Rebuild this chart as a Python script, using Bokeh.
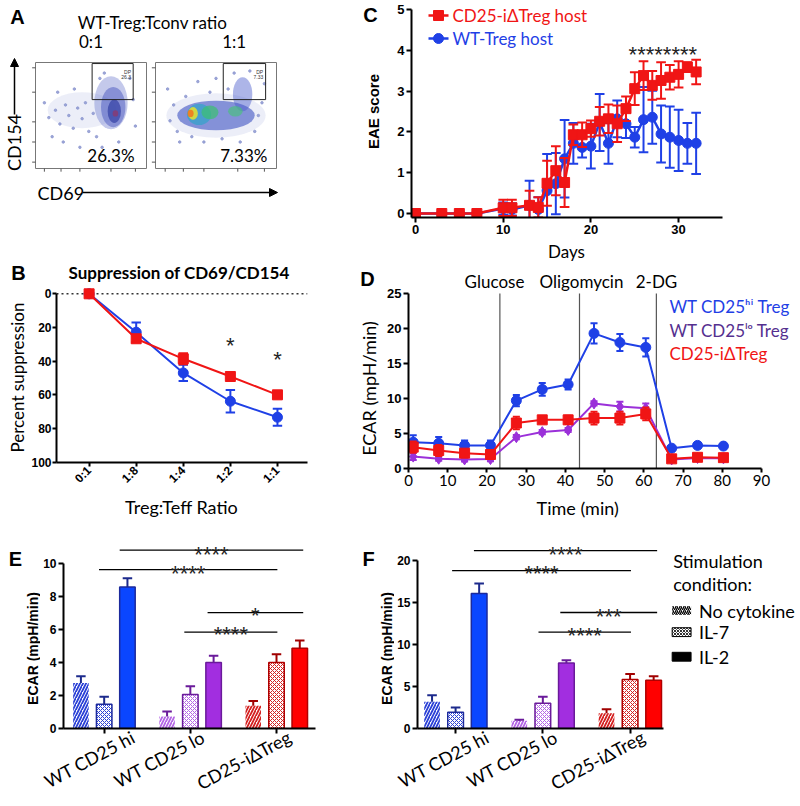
import math
from bokeh.plotting import figure
from bokeh.models import (Range1d, Label, FixedTicker, ColumnDataSource, Arrow, NormalHead,
                          LinearAxis)
from bokeh.layouts import column, row
from bokeh.embed import file_html
from bokeh.resources import INLINE
from bokeh.core.properties import value

# ======================= DATA =======================
# ---- Panel A: flow plots (fractions of each plot; x = CD69, y = CD154)
flow_ratio = ["0:1", "1:1"]
flow_ratio_x = [0.5, 0.65]
flow_pct = ["26.3%", "7.33%"]
flow_pct_x = [0.68, 0.73]
flow_gate_val = ["26.3", "7.33"]
flow_gate_x0 = [0.51, 0.56]
flow_gate_x1 = [0.88, 0.91]
flow_gate_y0 = [0.65, 0.65]
flow_gate_y1 = [0.99, 0.99]
flow_xticks = [0.08, 0.23, 0.40, 0.68, 0.90]
flow_yticks = [0.06, 0.25, 0.44, 0.72, 0.95]
f1_cx = [0.42, 0.68, 0.70, 0.71, 0.72]
f1_cy = [0.55, 0.62, 0.58, 0.54, 0.52]
f1_w = [0.62, 0.30, 0.22, 0.12, 0.05]
f1_h = [0.34, 0.50, 0.38, 0.22, 0.06]
f1_col = ["#d5d9ef", "#7d88d2", "#4a58bf", "#26349c", "#8a3a70"]
f1_alpha = [0.45, 0.45, 0.5, 0.6, 0.8]
f1_dust_x = [0.12, 0.18, 0.22, 0.27, 0.30, 0.34, 0.38, 0.42, 0.45, 0.48, 0.52, 0.15, 0.25,
             0.40, 0.60, 0.75, 0.90, 0.88, 0.58, 0.35, 0.08, 0.20, 0.55, 0.62, 0.85]
f1_dust_y = [0.48, 0.55, 0.42, 0.60, 0.50, 0.38, 0.57, 0.47, 0.62, 0.35, 0.52, 0.30, 0.25,
             0.20, 0.20, 0.25, 0.40, 0.65, 0.85, 0.75, 0.62, 0.72, 0.30, 0.90, 0.85]
f2_cx = [0.50, 0.50, 0.72, 0.36, 0.45, 0.66, 0.31, 0.29]
f2_cy = [0.50, 0.50, 0.70, 0.51, 0.53, 0.54, 0.52, 0.52]
f2_w = [0.82, 0.64, 0.16, 0.20, 0.14, 0.12, 0.08, 0.05]
f2_h = [0.42, 0.28, 0.32, 0.20, 0.13, 0.10, 0.12, 0.07]
f2_col = ["#d5d9ef", "#2f46bd", "#4a5ccc", "#22a6c8", "#3cc070", "#48c27c", "#e6e02a", "#f07a1e"]
f2_alpha = [0.45, 0.55, 0.45, 0.6, 0.7, 0.65, 0.85, 0.9]
f2_dust_x = [0.12, 0.15, 0.18, 0.25, 0.30, 0.45, 0.55, 0.60, 0.85, 0.88, 0.82, 0.70, 0.40,
             0.20, 0.50, 0.65, 0.78, 0.90, 0.10, 0.35]
f2_dust_y = [0.45, 0.60, 0.35, 0.68, 0.30, 0.72, 0.28, 0.75, 0.50, 0.62, 0.35, 0.25, 0.25,
             0.25, 0.85, 0.90, 0.92, 0.80, 0.75, 0.82]

# ---- Panel B: suppression of CD69/CD154
ratios = ["0:1", "1:8", "1:4", "1:2", "1:1"]
b_red = [0, 26.7, 38.6, 49.1, 60.0]
b_red_err = [0, 2.0, 3.3, 1.2, 2.2]
b_blue = [0, 22.8, 47.0, 63.8, 73.3]
b_blue_err = [0, 5.8, 4.8, 6.7, 5.0]
b_star_x = [3, 4]
b_star_y = [23.6, 31.7]

# ---- Panel C: EAE score
c_days = [0, 3, 5, 7, 10, 11, 13, 14, 15, 16, 17, 18, 19, 20, 21, 22, 23, 24, 25, 26, 27, 28, 29, 30, 31, 32]
c_red = [0, 0, 0, 0, 0.14, 0.14, 0.2, 0.15, 0.74, 1.05, 0.76, 1.93, 1.93, 2.08, 2.26, 2.32, 2.2,
         2.57, 3.06, 3.38, 3.14, 3.26, 3.34, 3.41, 3.59, 3.47]
c_red_err = [0, 0, 0, 0, 0.2, 0.2, 0.36, 0.25, 0.55, 0.6, 0.6, 0.25, 0.3, 0.2, 0.35, 0.35, 0.45,
             0.3, 0.4, 0.35, 0.35, 0.45, 0.3, 0.32, 0.12, 0.3]
c_blue = [0, 0, 0, 0, 0.12, 0.1, 0.2, 0.1, 0.56, 0.73, 1.34, 1.72, 1.62, 1.65, 2.23, 1.72, 2.32,
          2.2, 1.87, 2.3, 2.36, 1.95, 1.87, 1.79, 1.72, 1.72]
c_blue_err = [0, 0, 0, 0, 0.15, 0.15, 0.6, 0.3, 0.9, 0.75, 0.95, 0.5, 0.25, 0.55, 0.7, 0.5, 0.45,
              0.35, 0.25, 0.8, 0.65, 0.7, 0.75, 0.75, 0.5, 0.75]
c_star_day = 28.2
c_star_y = 4.19
c_star_text = "********"

# ---- Panel D: ECAR time course
d_t = [1.2, 7.7, 14.3, 20.9, 27.5, 34.1, 40.7, 47.3, 53.9, 60.5, 67.1, 73.7, 80.3]
d_blue = [3.76, 3.6, 3.3, 3.3, 9.7, 11.3, 12.0, 19.3, 18.0, 17.3, 2.9, 3.3, 3.2]
d_blue_err = [1.0, 0.9, 0.7, 0.7, 0.8, 0.9, 0.7, 1.45, 1.2, 1.3, 0.3, 0.3, 0.3]
d_purple = [1.7, 1.4, 1.3, 1.35, 4.48, 5.2, 5.5, 9.3, 8.85, 8.6, 1.3, 1.5, 1.45]
d_purple_err = [0.5, 0.3, 0.3, 0.3, 0.3, 0.3, 0.3, 0.3, 0.7, 0.7, 0.2, 0.2, 0.2]
d_red = [3.05, 2.57, 2.19, 2.0, 6.5, 6.95, 6.95, 7.2, 7.2, 7.8, 1.38, 1.6, 1.55]
d_red_err = [0.8, 0.8, 0.5, 0.4, 0.9, 0.5, 0.6, 0.9, 0.9, 0.9, 0.3, 0.3, 0.3]
d_inject = [23.3, 43.6, 63.2]
d_inject_names = ["Glucose", "Oligomycin", "2-DG"]
d_series_names = ["WT CD25\u02b0\u2071 Treg", "WT CD25\u02e1\u1d52 Treg", "CD25-i\u0394Treg"]

# ---- Panels E, F: ECAR bars
groups = ["WT CD25 hi", "WT CD25 lo", "CD25-i\u0394Treg"]
conditions = ["No cytokine", "IL-7", "IL-2"]
e_nocyt = [2.76, 0.73, 1.37]
e_nocyt_err = [0.4, 0.3, 0.3]
e_il7 = [1.47, 2.06, 4.0]
e_il7_err = [0.45, 0.5, 0.5]
e_il2 = [8.57, 4.0, 4.86]
e_il2_err = [0.53, 0.4, 0.47]
e_sig_x0 = [0.18, -0.06, 1.2, 0.93]
e_sig_x1 = [2.31, 2.01, 2.31, 2.01]
e_sig_y = [10.8, 9.62, 7.02, 5.83]
e_sig_ty = [11.27, 10.08, 7.58, 6.39]
e_sig_text = ["****", "****", "*", "****"]

f_nocyt = [3.2, 0.93, 1.83]
f_nocyt_err = [0.75, 0.12, 0.47]
f_il7 = [1.95, 3.0, 5.85]
f_il7_err = [0.55, 0.8, 0.65]
f_il2 = [16.1, 7.8, 5.74]
f_il2_err = [1.2, 0.35, 0.5]
f_sig_x0 = [0.21, -0.04, 1.2, 0.95]
f_sig_x1 = [2.31, 2.01, 2.31, 2.01]
f_sig_y = [21.2, 18.83, 13.83, 11.49]
f_sig_ty = [22.23, 19.93, 14.8, 12.46]
f_sig_text = ["****", "****", "***", "****"]

# ======================= STYLE =======================
BLUE = "#1f40e6"
RED = "#f01515"
PURPLE = "#9b30d9"
LEG_PURPLE = "#55308f"
BAR_FILL = ["#0a46ff", "#a22ee0", "#ff0000"]
BAR_LINE = ["#1c2a9c", "#6a1a9a", "#b00000"]
HATCH_COL = ["#2a40d6", "#b466e6", "#d42020"]
ERR_COL = ["#1c2a8c", "#6a1a9a", "#a00000"]
COND_OFF = [-0.27, 0.0, 0.27]
BAR_W = 0.18
LAB_FONT = "Lato"
TICK_FONT = "Liberation Sans"


def canvas(X0, X1, Y0, Y1):
    p = figure(frame_width=X1 - X0, frame_height=Y1 - Y0,
               x_range=Range1d(X0, X1), y_range=Range1d(Y1, Y0),
               x_axis_location=None, y_axis_location=None,
               output_backend="svg", toolbar_location=None, min_border=0,
               min_border_left=0, min_border_right=0, min_border_top=0, min_border_bottom=0)
    p.grid.visible = False
    p.outline_line_color = None
    return p


def panel(X0, X1, Y0, Y1, fl, fr, ft, fb, xr, yr):
    p = figure(width=X1 - X0, height=Y1 - Y0, x_range=xr, y_range=yr,
               output_backend="svg", toolbar_location=None,
               min_border_left=fl - X0, min_border_right=X1 - fr,
               min_border_top=ft - Y0, min_border_bottom=Y1 - fb)
    p.extra_x_ranges = {"px": Range1d(fl, fr)}
    p.extra_y_ranges = {"px": Range1d(fb, ft)}
    p.grid.visible = False
    p.outline_line_color = None
    for ax in list(p.xaxis) + list(p.yaxis):
        ax.axis_line_width = 2
        ax.axis_line_color = "black"
        ax.major_tick_line_width = 2
        ax.major_tick_line_color = "black"
        ax.major_tick_out = 5
        ax.major_tick_in = 0
        ax.minor_tick_line_color = None
        ax.major_label_text_font = TICK_FONT
        ax.major_label_text_font_style = "bold"
        ax.major_label_text_font_size = "13px"
        ax.major_label_text_color = "black"
        ax.major_label_standoff = 2
    return p


def lab(p, x, y, text, size="17px", font=LAB_FONT, style="normal", color="black",
        align="center", baseline="middle", angle=0.0, xr="px", yr="px"):
    p.add_layout(Label(x=x, y=y, text=text, x_range_name=xr, y_range_name=yr,
                       text_font=font, text_font_size=size, text_font_style=style,
                       text_color=color, text_align=align, text_baseline=baseline,
                       angle=angle))


def errbars(p, xs, ys, es, color, capw, width=2.0):
    lo = [y - e for y, e in zip(ys, es)]
    hi = [y + e for y, e in zip(ys, es)]
    xl = [x - capw for x in xs]
    xr_ = [x + capw for x in xs]
    p.segment(x0=xs, y0=lo, x1=xs, y1=hi, line_color=color, line_width=width)
    p.segment(x0=xl, y0=hi, x1=xr_, y1=hi, line_color=color, line_width=width)
    p.segment(x0=xl, y0=lo, x1=xr_, y1=lo, line_color=color, line_width=width)


# ======================= PANEL A =======================
A_H = 204
pA = canvas(0, 335, 0, A_H)
FLOW_BOX = [(35, 146, 62, 168), (155, 276, 62, 168)]
exr, eyr = {}, {}
for i, (a, b, t, btm) in enumerate(FLOW_BOX):
    exr["f%dx" % i] = Range1d((0 - a) / (b - a), (335 - a) / (b - a))
    eyr["f%dy" % i] = Range1d((btm - A_H) / (btm - t), (btm - 0) / (btm - t))
pA.extra_x_ranges = exr
pA.extra_y_ranges = eyr

clouds = [(f1_cx, f1_cy, f1_w, f1_h, f1_col, f1_alpha, f1_dust_x, f1_dust_y),
          (f2_cx, f2_cy, f2_w, f2_h, f2_col, f2_alpha, f2_dust_x, f2_dust_y)]
for i, (cx, cy, w, h, col, al, dx, dy) in enumerate(clouds):
    xn, yn = "f%dx" % i, "f%dy" % i
    src = ColumnDataSource(dict(x=cx, y=cy, w=w, h=h, c=col, a=al))
    pA.ellipse(x="x", y="y", width="w", height="h", fill_color="c", fill_alpha="a",
               line_color=None, source=src, x_range_name=xn, y_range_name=yn)
    pA.scatter(x=dx, y=dy, size=2.5, color="#8d98d0", alpha=0.85, x_range_name=xn, y_range_name=yn)
    pA.quad(left=0, right=1, bottom=0, top=1, fill_color=None, line_color="#777777",
            line_width=1, x_range_name=xn, y_range_name=yn)
    pA.quad(left=flow_gate_x0[i], right=flow_gate_x1[i], bottom=flow_gate_y0[i],
            top=flow_gate_y1[i], fill_color=None, line_color="#222222", line_width=1,
            x_range_name=xn, y_range_name=yn)
    pA.segment(x0=flow_xticks, y0=[0] * 5, x1=flow_xticks, y1=[-0.03] * 5, line_color="#555555",
               line_width=1, x_range_name=xn, y_range_name=yn)
    pA.segment(x0=[0] * 5, y0=flow_yticks, x1=[-0.03] * 5, y1=flow_yticks, line_color="#555555",
               line_width=1, x_range_name=xn, y_range_name=yn)
    gx = flow_gate_x1[i] - 0.02
    pA.text(x=[gx, gx], y=[0.91, 0.86], text=["DP", flow_gate_val[i]], text_font_size=value("5px"),
            text_align="right", text_baseline="middle", text_color="#333333",
            x_range_name=xn, y_range_name=yn)
    pA.text(x=[flow_pct_x[i]], y=[0.12], text=[flow_pct[i]], text_font=value(LAB_FONT),
            text_font_size=value("17px"), text_align="center", text_baseline="middle",
            x_range_name=xn, y_range_name=yn)
    pA.text(x=[flow_ratio_x[i]], y=[1.2], text=[flow_ratio[i]], text_font=value(LAB_FONT),
            text_font_size=value("17px"), text_align="center", text_baseline="middle",
            x_range_name=xn, y_range_name=yn)

lab(pA, 17, 16, "A", size="20px", font=TICK_FONT, style="bold", xr="default", yr="default")
lab(pA, 152, 22, "WT-Treg:Tconv ratio", size="17px", xr="default", yr="default")
lab(pA, 13, 142, "CD154", size="18px", angle=math.pi / 2, xr="default", yr="default")
lab(pA, 37, 192, "CD69", size="18px", align="left", xr="default", yr="default")
pA.add_layout(Arrow(end=NormalHead(size=8, fill_color="black", line_color="black"),
                    x_start=14, y_start=114, x_end=14, y_end=58, line_width=1.5))
pA.add_layout(Arrow(end=NormalHead(size=8, fill_color="black", line_color="black"),
                    x_start=82, y_start=192, x_end=277, y_end=192, line_width=1.5))

# ======================= PANEL B =======================
B_X0, B_DX, B_Y0, B_DY = 86.0, 47.65, 293.3, 1.684
sB = canvas(0, 28, A_H, 494)
pB = panel(28, 335, A_H, 494, 53, 307, A_H, 462,
           Range1d((53 - B_X0) / B_DX, (307 - B_X0) / B_DX),
           Range1d((462 - B_Y0) / B_DY, (A_H - B_Y0) / B_DY))
pB.yaxis.ticker = FixedTicker(ticks=[0, 20, 40, 60, 80, 100])
pB.yaxis.bounds = (0, 100)
pB.yaxis.major_label_text_font_size = "12px"
pB.yaxis.major_tick_out = 4
pB.yaxis.major_label_standoff = 1
pB.xaxis.ticker = FixedTicker(ticks=list(range(len(ratios))))
pB.xaxis.major_label_overrides = {i: r for i, r in enumerate(ratios)}
pB.xaxis.major_label_orientation = math.pi / 4
pB.xaxis.major_label_text_font_size = "12px"
pB.xaxis.major_tick_out = 4
pB.segment(x0=[(53 - B_X0) / B_DX], y0=[0], x1=[(307 - B_X0) / B_DX], y1=[0],
           line_color="#333333", line_width=1.5, line_dash="2 3")
bx = list(range(len(ratios)))
errbars(pB, bx, b_blue, b_blue_err, BLUE, 0.1)
pB.line(bx, b_blue, line_color=BLUE, line_width=2)
pB.scatter(bx, b_blue, marker="circle", size=10, color=BLUE)
errbars(pB, bx, b_red, b_red_err, RED, 0.1)
pB.line(bx, b_red, line_color=RED, line_width=2)
pB.scatter(bx, b_red, marker="square", size=10, color=RED)
pB.text(x=b_star_x, y=[v + 12.2 / B_DY for v in b_star_y], text=["*"] * len(b_star_x),
        text_font=value(TICK_FONT), text_font_size=value("22px"), text_align="center",
        text_baseline="alphabetic", text_color="#222222")
lab(pB, 177, 272, "Suppression of CD69/CD154", size="17px", style="bold")
lab(sB, 18, 272, "B", size="20px", font=TICK_FONT, style="bold", xr="default", yr="default")
lab(sB, 17, 377, "Percent suppression", size="17px", angle=math.pi / 2, xr="default", yr="default")

# ======================= PANEL C =======================
C_X0, C_DX, C_Y0, C_DY = 415.0, 8.77, 213.0, 40.8
sC = canvas(335, 382, 0, 240)
pC = panel(382, 800, 0, 240, 411, 722, 0, 217,
           Range1d((411 - C_X0) / C_DX, (722 - C_X0) / C_DX),
           Range1d((C_Y0 - 217) / C_DY, (C_Y0 - 0) / C_DY))
pC.xaxis.ticker = FixedTicker(ticks=[0, 10, 20, 30])
pC.yaxis.ticker = FixedTicker(ticks=[0, 1, 2, 3, 4, 5])
pC.xaxis.bounds = ((411 - C_X0) / C_DX, 35)
pC.yaxis.bounds = ((C_Y0 - 217) / C_DY, 5)
errbars(pC, c_days, c_blue, c_blue_err, BLUE, 0.55)
pC.line(c_days, c_blue, line_color=BLUE, line_width=2.5)
pC.scatter(c_days, c_blue, marker="circle", size=10, color=BLUE)
errbars(pC, c_days, c_red, c_red_err, RED, 0.55)
pC.line(c_days, c_red, line_color=RED, line_width=2.5)
pC.scatter(c_days, c_red, marker="square", size=10, color=RED)
pC.add_layout(Label(x=c_star_day, y=c_star_y - 12.2 / C_DY, text=c_star_text,
                    text_font=TICK_FONT, text_font_size="22px", text_align="center",
                    text_baseline="alphabetic", text_color="#222222"))
pC.line([428, 448], [15, 15], line_color=RED, line_width=2.5, x_range_name="px", y_range_name="px")
pC.scatter([438], [15], marker="square", size=10, color=RED, x_range_name="px", y_range_name="px")
pC.line([428, 448], [38, 38], line_color=BLUE, line_width=2.5, x_range_name="px", y_range_name="px")
pC.scatter([438], [38], marker="circle", size=10, color=BLUE, x_range_name="px", y_range_name="px")
lab(pC, 452, 15, "CD25-i\u0394Treg host", size="17px", color=RED, align="left")
lab(pC, 452, 38, "WT-Treg host", size="17px", color=BLUE, align="left")
lab(sC, 370, 14, "C", size="20px", font=TICK_FONT, style="bold", xr="default", yr="default")
lab(sC, 373, 111, "EAE score", size="15px", font=TICK_FONT, style="bold", angle=math.pi / 2,
    xr="default", yr="default")

# ======================= PANEL D =======================
D_DX, D_DY = 3.922, 7.0
sD = canvas(335, 382, 240, 494)
pD = panel(382, 800, 240, 494, 408, 800, 240, 468,
           Range1d(0, (800 - 408) / D_DX), Range1d(0, (468 - 240) / D_DY))
pD.xaxis.ticker = FixedTicker(ticks=list(range(0, 91, 10)))
pD.yaxis.ticker = FixedTicker(ticks=[0, 5, 10, 15, 20, 25])
pD.xaxis.bounds = (0, 90)
pD.yaxis.bounds = (0, 25)
pD.xaxis.major_label_text_font = LAB_FONT
pD.xaxis.major_label_text_font_style = "normal"
pD.xaxis.major_label_text_font_size = "15px"
pD.xaxis.major_tick_out = 4
pD.xaxis.major_label_standoff = 2
pD.segment(x0=d_inject, y0=[0] * len(d_inject), x1=d_inject, y1=[25] * len(d_inject),
           line_color="#555555", line_width=1.2)
errbars(pD, d_t, d_purple, d_purple_err, PURPLE, 0.9)
pD.line(d_t, d_purple, line_color=PURPLE, line_width=2)
pD.scatter(d_t, d_purple, marker="diamond", size=11, color=PURPLE)
errbars(pD, d_t, d_blue, d_blue_err, BLUE, 0.9)
pD.line(d_t, d_blue, line_color=BLUE, line_width=2)
pD.scatter(d_t, d_blue, marker="circle", size=10, color=BLUE)
errbars(pD, d_t, d_red, d_red_err, RED, 0.9)
pD.line(d_t, d_red, line_color=RED, line_width=2)
pD.scatter(d_t, d_red, marker="square", size=10, color=RED)
for name, cx in zip(d_inject_names, [494, 581, 656]):
    lab(pD, cx, 281, name, size="17px")
for name, col, yy in zip(d_series_names, [BLUE, LEG_PURPLE, RED], [306, 330, 353]):
    lab(pD, 669, yy, name, size="17px", color=col, align="left")
lab(pD, 566, 251, "Days", size="17px")
lab(sD, 367, 278, "D", size="20px", font=TICK_FONT, style="bold", xr="default", yr="default")
lab(sD, 368, 388, "ECAR (mpH/min)", size="18px", angle=math.pi / 2, xr="default", yr="default")


# ======================= PANELS E / F =======================
def bar_panel(p, nocyt, nocyt_e, il7, il7_e, il2, il2_e, capw, shift):
    gx = list(range(len(groups)))
    specs = [(nocyt, nocyt_e), (il7, il7_e), (il2, il2_e)]
    for k, (vals, errs) in enumerate(specs):
        xs = [g + COND_OFF[k] for g in gx]
        src = ColumnDataSource(dict(
            x=xs, top=vals, etop=[v + e for v, e in zip(vals, errs)],
            hc=HATCH_COL, lc=BAR_LINE, fc=BAR_FILL, ec=ERR_COL,
            cl=[x - capw for x in xs], cr=[x + capw for x in xs]))
        if k == 0:
            p.vbar(x="x", top="top", bottom=0, width=BAR_W, source=src, fill_color="white",
                   line_color=None, hatch_pattern="/", hatch_color="hc", hatch_scale=6,
                   hatch_weight=1.8)
        elif k == 1:
            p.vbar(x="x", top="top", bottom=0, width=BAR_W, source=src, fill_color="white",
                   line_color="lc", line_width=1.5, hatch_pattern="x", hatch_color="hc",
                   hatch_scale=4, hatch_weight=1.0)
        else:
            p.vbar(x="x", top="top", bottom=0, width=BAR_W, source=src, fill_color="fc",
                   line_color="lc", line_width=1.5)
        p.segment(x0="x", y0="top", x1="x", y1="etop", source=src, line_color="ec", line_width=2)
        p.segment(x0="cl", y0="etop", x1="cr", y1="etop", source=src, line_color="ec", line_width=2)
    p.xaxis.ticker = FixedTicker(ticks=gx)
    p.xaxis.major_label_overrides = {g: "" for g in gx}
    p.xaxis.major_label_standoff = 0
    lt = [round(g + shift, 2) for g in gx]
    ax2 = LinearAxis(ticker=FixedTicker(ticks=lt),
                     major_label_overrides={t: name for t, name in zip(lt, groups)},
                     axis_line_color=None, major_tick_line_color=None, minor_tick_line_color=None,
                     major_tick_out=0, major_tick_in=0, major_label_standoff=2,
                     major_label_orientation=0.49, major_label_text_font=LAB_FONT,
                     major_label_text_font_size="18px", major_label_text_color="black")
    p.add_layout(ax2, "below")


def sig_marks(p, x0, x1, y, ty, texts, pxu):
    p.segment(x0=x0, y0=y, x1=x1, y1=y, line_color="black", line_width=1.3)
    mids = [(a + b) / 2 for a, b in zip(x0, x1)]
    p.text(x=mids, y=[t - 12.2 / pxu for t in ty], text=texts, text_font=value(TICK_FONT),
           text_font_size=value("22px"), text_align="center", text_baseline="alphabetic",
           text_color="#222222")


E_X0, E_DX, E_PXU = 102.0, 86.85, 16.8
sE = canvas(0, 40, 494, 806)
pE = panel(40, 358, 494, 806, 61, 315, 494, 732,
           Range1d((61 - E_X0) / E_DX, (315 - E_X0) / E_DX), Range1d(0, (732 - 494) / E_PXU))
pE.yaxis.ticker = FixedTicker(ticks=[0, 2, 4, 6, 8, 10])
pE.yaxis.bounds = (0, 10)
pE.yaxis.major_label_text_font_size = "12px"
bar_panel(pE, e_nocyt, e_nocyt_err, e_il7, e_il7_err, e_il2, e_il2_err, 0.055, 0.15)
sig_marks(pE, e_sig_x0, e_sig_x1, e_sig_y, e_sig_ty, e_sig_text, E_PXU)
lab(pE, 180, 507, "Treg:Teff Ratio", size="18px")
lab(sE, 15, 558, "E", size="20px", font=TICK_FONT, style="bold", xr="default", yr="default")
lab(sE, 32, 648, "ECAR (mpH/min)", size="14px", font=TICK_FONT, style="bold", angle=math.pi / 2,
    xr="default", yr="default")

F_X0, F_DX, F_PXU = 453.3, 87.7, 8.53
sF = canvas(358, 394, 494, 806)
pF = panel(394, 800, 494, 806, 415, 800, 494, 732,
           Range1d((415 - F_X0) / F_DX, (800 - F_X0) / F_DX), Range1d(0, (732 - 494) / F_PXU))
pF.yaxis.ticker = FixedTicker(ticks=[0, 5, 10, 15, 20])
pF.yaxis.bounds = (0, 20)
pF.xaxis.bounds = ((415 - F_X0) / F_DX, (662 - F_X0) / F_DX)
pF.yaxis.major_label_text_font_size = "12px"
bar_panel(pF, f_nocyt, f_nocyt_err, f_il7, f_il7_err, f_il2, f_il2_err, 0.055, 0.15)
sig_marks(pF, f_sig_x0, f_sig_x1, f_sig_y, f_sig_ty, f_sig_text, F_PXU)
lab(pF, 576, 508, "Time (min)", size="18px")
lab(sF, 368, 558, "F", size="20px", font=TICK_FONT, style="bold", xr="default", yr="default")
lab(sF, 386, 648, "ECAR (mpH/min)", size="14px", font=TICK_FONT, style="bold", angle=math.pi / 2,
    xr="default", yr="default")
# legend
lab(pF, 672, 562, "Stimulation", size="18px", align="left")
lab(pF, 672, 585, "condition:", size="18px", align="left")
leg_y = [612, 634, 659]
pF.quad(left=[671], right=[690], top=[leg_y[0] - 4.5], bottom=[leg_y[0] + 4.5], fill_color="white",
        line_color=None, hatch_pattern="/", hatch_color="black", hatch_scale=4, hatch_weight=1.3,
        x_range_name="px", y_range_name="px")
pF.quad(left=[671], right=[690], top=[leg_y[1] - 4.5], bottom=[leg_y[1] + 4.5], fill_color="white",
        line_color="black", line_width=1, hatch_pattern="x", hatch_color="black", hatch_scale=3,
        hatch_weight=0.8, x_range_name="px", y_range_name="px")
pF.quad(left=[671], right=[690], top=[leg_y[2] - 4.5], bottom=[leg_y[2] + 4.5], fill_color="black",
        line_color="black", x_range_name="px", y_range_name="px")
for name, yy in zip(conditions, leg_y):
    lab(pF, 698, yy, name, size="18px", align="left")

top_left = column(pA, row(sB, pB))
top_right = column(row(sC, pC), row(sD, pD))
bottom = row(sE, pE, sF, pF)
layout = column(row(top_left, top_right), bottom)
open("out.html", "w").write(file_html(layout, INLINE))
